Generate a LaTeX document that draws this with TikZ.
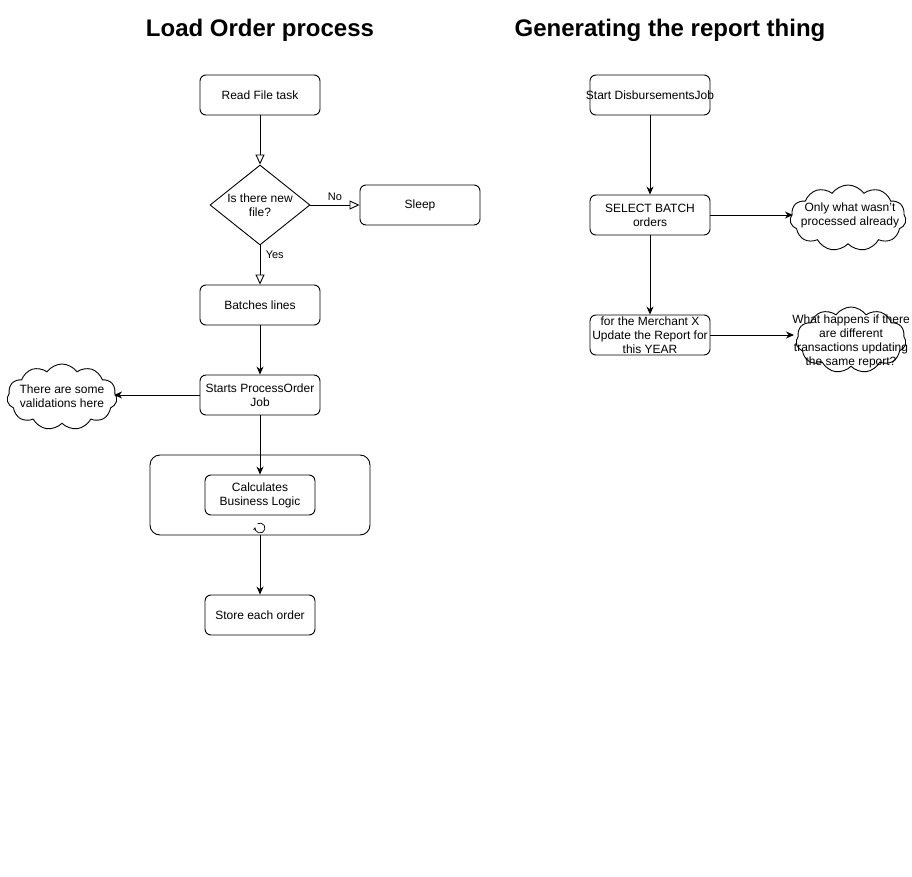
\documentclass[tikz,border=0pt]{standalone}
\usepackage{fontspec}
\setmainfont{Liberation Sans}
\usetikzlibrary{shapes.geometric,shapes.symbols,arrows.meta}
\begin{document}
\begin{tikzpicture}[x=1pt,y=-1pt,
    font=\fontsize{12}{14}\selectfont, line width=0.9pt,
    stepbox/.style={draw, rounded corners=6pt, minimum width=120pt, minimum height=40pt, align=center, inner sep=1pt},
    smallbox/.style={stepbox, minimum width=110pt},
    choice/.style={draw, diamond, minimum width=100pt, minimum height=80pt, aspect=1.25, align=center, inner sep=0pt},
    note/.style={draw, cloud, cloud puffs=11, cloud puff arc=110, cloud ignores aspect, inner sep=0pt},
    notetext/.style={align=center, inner sep=0pt},
    title/.style={font=\fontsize{24}{28}\selectfont\bfseries},
    flow/.style={-{Stealth[length=8pt,width=7pt]}},
    openflow/.style={-{Triangle[open,length=10pt,width=9pt]}},
    lbl/.style={font=\fontsize{11}{13}\selectfont}]
  \useasboundingbox (0,0) rectangle (912,877);
  % titles
  \node[title] (t1) at (260,30) {Load Order process};
  \node[title] (t2) at (670,30) {Generating the report thing};

  % load order flow
  \node[stepbox] (read) at (260,95) {Read File task};
  \node[choice] (newfile) at (260,205) {Is there new\\file?};
  \node[stepbox] (sleep) at (420,205) {Sleep};
  \node[stepbox] (batches) at (260,305) {Batches lines};
  \node[stepbox] (starts) at (260,395) {Starts ProcessOrder\\Job};
  \node[note, minimum width=110pt, minimum height=66pt] (valid) at (62,397) {};
  \node[notetext] (validtxt) at (62,396) {There are some\\validations here};
  \node[draw, rounded corners=10pt, minimum width=220pt, minimum height=80pt] (loop) at (260,495) {};
  \node[smallbox] (calc) at (260,495) {Calculates\\Business Logic};
  \node[smallbox] (store) at (260,615) {Store each order};

  \draw[openflow] (read) -- (newfile);
  \draw[openflow] (newfile) -- node[lbl, above, pos=0.5, yshift=1pt] {No} (sleep);
  \draw[openflow] (newfile) -- node[lbl, right, pos=0.25, xshift=2pt] {Yes} (batches);
  \draw[flow] (batches) -- (starts);
  \draw[flow] (starts.west) -- ([xshift=-3pt]starts.west -| valid.east);
  \draw[flow] (starts) -- (calc);
  \draw[flow] (loop) -- (store);
  % loop marker
  \draw[line width=0.7pt, -{Stealth[length=3pt,width=3pt]}] (257.5,523.7) arc[start angle=120, end angle=-190, radius=5pt];

  % report flow
  \node[stepbox, inner xsep=-4pt] (startjob) at (650,95) {Start DisbursementsJob};
  \node[stepbox] (select) at (650,215) {SELECT BATCH\\orders};
  \node[stepbox, inner sep=0pt] (merchant) at (650,335) {for the Merchant X\\Update the Report for\\this YEAR};
  \node[note, minimum width=116pt, minimum height=66pt] (already) at (848,218) {};
  \node[notetext] (alreadytxt) at (850,215) {Only what wasn't\\processed already};
  \node[note, minimum width=110pt, minimum height=66pt] (question) at (851,340) {};
  \node[notetext] (questiontxt) at (851,341) {What happens if there\\are different\\transactions updating\\the same report?};

  \draw[flow] (startjob) -- (select);
  \draw[flow] (select.east) -- ([xshift=3pt]select.east -| already.west);
  \draw[flow] (select) -- (merchant);
  \draw[flow] (merchant.east) -- ([xshift=-2pt]merchant.east -| question.west);
\end{tikzpicture}
\end{document}
